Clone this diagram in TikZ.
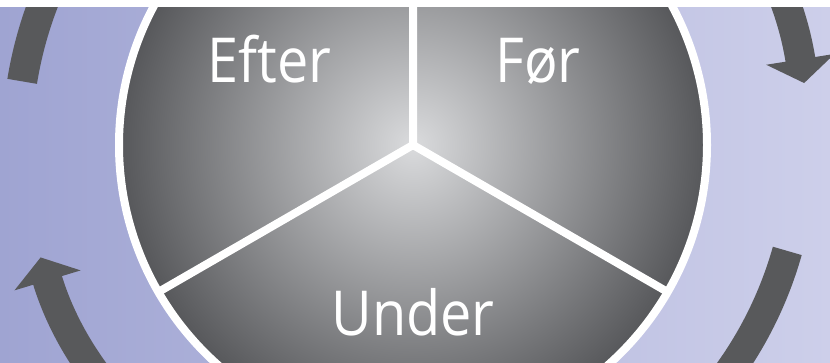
\documentclass[tikz,border=0pt]{standalone}
\usepackage{fontspec}
\setmainfont{Open Sans}
\newfontfamily\phasefont{Open Sans}[FakeStretch=0.9]
\usetikzlibrary{arrows.meta}
\definecolor{bgleft}{HTML}{9FA4D2}
\definecolor{bgright}{HTML}{CDCFEA}
\definecolor{arrowgray}{HTML}{58595B}
\definecolor{discin}{HTML}{DADBDD}
\definecolor{discout}{HTML}{56575A}
\tikzset{
  phase/.style={text=white, font=\phasefont\fontsize{62}{62}\selectfont, anchor=base, inner sep=0pt},
  cyclearrow/.style={draw=arrowgray, line width=30pt, -{Triangle[length=24pt,width=68pt]}},
  rim/.style={draw=white, line width=8pt}
}
\begin{document}
\begin{tikzpicture}[x=1pt,y=1pt]
  \useasboundingbox (0,0) rectangle (830,362);
  \clip (0,0) rectangle (830,354);
  % Background
  \shade[left color=bgleft, right color=bgright] (0,0) rectangle (830,354);
  \coordinate (c) at (413,217);
  % Arrows round the circle
  \draw[cyclearrow] (c) ++(170.75:396) arc[start angle=170.75, end angle=9, radius=396];
  \draw[cyclearrow] (c) ++(-15.8:389) arc[start angle=-15.8, end angle=-163.2, radius=389];
  % Circle
  \shade[inner color=discin, outer color=discout] (c) circle[radius=294];
  \draw[rim] (c) circle[radius=294];
  \draw[rim, line cap=round] (c) -- ++(90:292) (c) -- ++(210:292) (c) -- ++(330:292);
  % Labels
  \node[phase] (efter) at (269.5,279) {Efter};
  \node[phase] (foer) at (538,279) {Før};
  \node[phase] (under) at (413,27) {Under};
\end{tikzpicture}
\end{document}
